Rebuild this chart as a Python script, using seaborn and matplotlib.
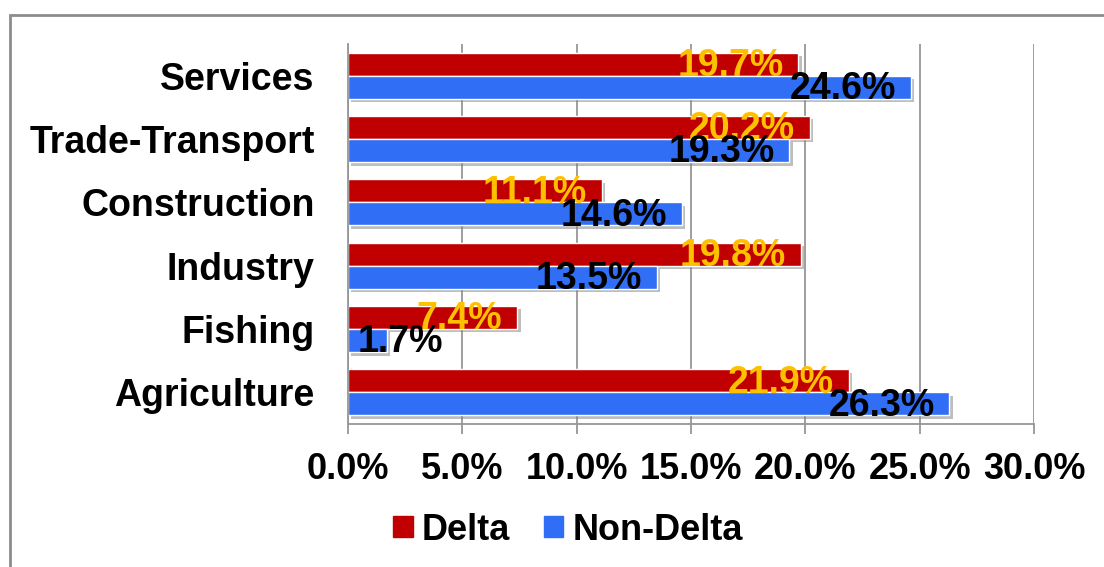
import matplotlib
matplotlib.use("Agg")
import matplotlib.pyplot as plt
import matplotlib.patheffects as pe
from matplotlib.patches import Rectangle
from matplotlib.ticker import FuncFormatter, FixedLocator
import pandas as pd
import seaborn as sns

# datos
sectors = ["Services", "Trade-Transport", "Construction", "Industry", "Fishing", "Agriculture"]
delta = [19.7, 20.2, 11.1, 19.8, 7.4, 21.9]
non_delta = [24.6, 19.3, 14.6, 13.5, 1.7, 26.3]
groups = ["Delta", "Non-Delta"]

df = pd.DataFrame({
    "sector": sectors * 2,
    "share": delta + non_delta,
    "region": [groups[0]] * len(sectors) + [groups[1]] * len(sectors),
})

sns.set_theme(style="white")
plt.rcParams["font.family"] = ["Liberation Sans", "DejaVu Sans"]
plt.rcParams["font.weight"] = "bold"
plt.rcParams["text.color"] = "black"
plt.rcParams["xtick.labelcolor"] = "black"
plt.rcParams["ytick.labelcolor"] = "black"

grey = "#969696"
colors = {"Delta": "#C00000", "Non-Delta": "#2F6EF5"}
label_colors = {"Delta": "#FFC000", "Non-Delta": "black"}

fig = plt.figure(figsize=(11.04, 5.67), dpi=100)
ax = fig.add_axes([348 / 1104, 1 - 424 / 567, 686 / 1104, 380 / 567])

sns.barplot(data=df, y="sector", x="share", hue="region", orient="h",
            palette=colors, width=0.73, saturation=1, ax=ax, legend=False)

ax.set_xlim(0, 30)
ax.set_ylim(len(sectors) - 0.5, -0.5)

# sombra de las barras
for bar in ax.patches:
    bar.set_path_effects([pe.SimplePatchShadow(offset=(2.5, -2.5), shadow_rgbFace="#7f7f7f", alpha=0.5),
                          pe.Normal()])

# etiquetas de valor
for cont, grp in zip(ax.containers, groups):
    for bar in cont:
        v = bar.get_width()
        yc = bar.get_y() + bar.get_height() / 2
        if v < 4:
            ax.text(0.4, yc + 0.03, f"{v:.1f}%", ha="left", va="center",
                    fontsize=27, fontweight="bold", color=label_colors[grp])
        else:
            ax.text(v - 0.65, yc + 0.03, f"{v:.1f}%", ha="right", va="center",
                    fontsize=27, fontweight="bold", color=label_colors[grp])

# ejes
ax.xaxis.set_major_locator(FixedLocator([0, 5, 10, 15, 20, 25, 30]))
ax.xaxis.set_major_formatter(FuncFormatter(lambda x, p: f"{x:.1f}%"))
ax.grid(axis="x", color=grey, linewidth=1.3)
ax.grid(axis="y", visible=False)
ax.set_axisbelow(True)
for s in ["top", "right"]:
    ax.spines[s].set_visible(False)
for s in ["left", "bottom"]:
    ax.spines[s].set_color(grey)
    ax.spines[s].set_linewidth(1.3)

ax.set_yticks([i - 0.5 for i in range(len(sectors) + 1)], minor=True)
ax.tick_params(axis="y", which="major", length=0, pad=24, labelsize=27, labelcolor="black")
ax.tick_params(axis="y", which="minor", length=6, width=1.3, color=grey, direction="out")
ax.tick_params(axis="x", which="major", length=7, width=1.3, color=grey, direction="out",
               pad=13, labelsize=26, bottom=True, labelcolor="black")
for t in ax.get_xticklabels() + ax.get_yticklabels():
    t.set_fontweight("bold")
ax.set_xlabel("")
ax.set_ylabel("")

# leyenda
handles = [Rectangle((0, 0), 1, 1, color=colors[g]) for g in groups]
fig.legend(handles, groups, loc="center", bbox_to_anchor=(568 / 1104, 1 - 530 / 567),
           ncol=2, frameon=False, handlelength=0.53, handleheight=0.53,
           handletextpad=0.25, columnspacing=0.95, prop={"size": 26, "weight": "bold"})

# marco exterior
fig.patches.append(Rectangle((10 / 1104, -0.2), 1.2, 1.2 - 15 / 567,
                             transform=fig.transFigure, fill=False,
                             edgecolor="#8c8c8c", linewidth=2))

fig.savefig("out.png", dpi=100)
